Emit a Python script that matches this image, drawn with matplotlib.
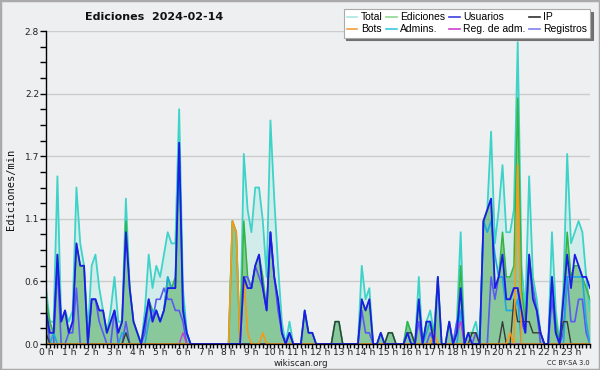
import numpy as np
import matplotlib
matplotlib.use("Agg")
import matplotlib.pyplot as plt
from matplotlib.patches import Rectangle
from matplotlib.lines import Line2D

# ---- data: edits per minute, 10-minute steps (144 points) ----
total = [
    0.5, 0.2, 0.2, 1.5, 0.2, 0.3, 0.2, 0.3, 1.4, 0.9, 0.7, 0.1,
    0.7, 0.8, 0.5, 0.3, 0.1, 0.3, 0.6, 0.2, 0.2, 1.3, 0.5, 0.2,
    0.1, 0.0, 0.3, 0.8, 0.5, 0.7, 0.6, 0.8, 1.0, 0.9, 0.9, 2.1,
    0.5, 0.1, 0, 0, 0, 0, 0, 0, 0, 0, 0, 0,
    0, 1.1, 1.0, 0, 1.7, 1.2, 1.0, 1.4, 1.4, 1.1, 0.6, 2.0,
    1.3, 0.7, 0.2, 0, 0.2, 0, 0, 0, 0.3, 0.1, 0.1, 0,
    0, 0, 0, 0, 0.2, 0.2, 0, 0, 0, 0, 0, 0.7,
    0.4, 0.5, 0, 0, 0.1, 0, 0.1, 0.1, 0, 0, 0, 0.2,
    0.1, 0, 0.6, 0, 0.2, 0.3, 0.1, 0.6, 0, 0, 0.2, 0,
    0.2, 1.0, 0, 0.1, 0.1, 0.2, 0, 1.1, 1.2, 1.9, 0.9, 1.2,
    1.6, 1.0, 1.0, 1.2, 2.7, 0.7, 0.3, 1.5, 0.6, 0.4, 0.1, 0,
    0, 1.0, 0.3, 0, 0.5, 1.7, 0.9, 1.0, 1.1, 1.0, 0.6, 0.3,
]
ediciones = [
    0.4, 0.2, 0.1, 0.8, 0.2, 0.3, 0.1, 0.2, 0.9, 0.7, 0.7, 0,
    0.4, 0.4, 0.3, 0.3, 0.1, 0.2, 0.3, 0.1, 0.2, 1.1, 0.5, 0.2,
    0.1, 0, 0.2, 0.4, 0.3, 0.3, 0.2, 0.3, 0.6, 0.5, 0.6, 1.8,
    0.3, 0.1, 0, 0, 0, 0, 0, 0, 0, 0, 0, 0,
    0, 1.1, 1.0, 0, 1.1, 0.6, 0.5, 0.7, 0.8, 0.6, 0.3, 1.0,
    0.6, 0.4, 0.1, 0, 0.1, 0, 0, 0, 0.3, 0.1, 0.1, 0,
    0, 0, 0, 0, 0.2, 0.2, 0, 0, 0, 0, 0, 0.4,
    0.3, 0.4, 0, 0, 0.1, 0, 0.1, 0.1, 0, 0, 0, 0.2,
    0.1, 0, 0.4, 0, 0.2, 0.2, 0.1, 0.6, 0, 0, 0.2, 0,
    0.1, 0.7, 0, 0.1, 0.1, 0.1, 0, 1.1, 1.2, 1.3, 0.5, 0.6,
    1.0, 0.6, 0.6, 0.7, 2.2, 0.5, 0.2, 0.8, 0.5, 0.3, 0.1, 0,
    0, 0.6, 0.2, 0, 0.4, 1.0, 0.6, 0.7, 0.7, 0.6, 0.5, 0.4,
]
usuarios = [
    0.3, 0.1, 0.1, 0.8, 0.2, 0.3, 0.1, 0.2, 0.9, 0.7, 0.7, 0,
    0.4, 0.4, 0.3, 0.3, 0.1, 0.2, 0.3, 0.1, 0.2, 1.0, 0.5, 0.2,
    0.1, 0, 0.2, 0.4, 0.2, 0.3, 0.2, 0.3, 0.5, 0.5, 0.5, 1.8,
    0.3, 0.1, 0, 0, 0, 0, 0, 0, 0, 0, 0, 0,
    0, 0, 0, 0, 0.6, 0.5, 0.5, 0.7, 0.8, 0.5, 0.3, 1.0,
    0.6, 0.4, 0.1, 0, 0.1, 0, 0, 0, 0.3, 0.1, 0.1, 0,
    0, 0, 0, 0, 0, 0, 0, 0, 0, 0, 0, 0.4,
    0.3, 0.4, 0, 0, 0.1, 0, 0, 0, 0, 0, 0, 0.1,
    0, 0, 0.4, 0, 0.2, 0.2, 0, 0.6, 0, 0, 0.2, 0,
    0.1, 0.5, 0, 0.1, 0, 0, 0, 1.1, 1.2, 1.3, 0.5, 0.6,
    0.8, 0.4, 0.4, 0.5, 0.5, 0.3, 0.1, 0.8, 0.4, 0.3, 0.1, 0,
    0, 0.6, 0.1, 0, 0.4, 0.8, 0.5, 0.8, 0.7, 0.6, 0.6, 0.5,
]
ip = [
    0.1, 0, 0, 0, 0, 0, 0, 0, 0, 0, 0, 0,
    0, 0, 0, 0, 0, 0, 0, 0, 0, 0.1, 0, 0,
    0, 0, 0, 0, 0, 0, 0, 0, 0, 0, 0, 0,
    0, 0, 0, 0, 0, 0, 0, 0, 0, 0, 0, 0,
    0, 0, 0, 0, 0, 0, 0, 0, 0, 0, 0, 0,
    0, 0, 0, 0, 0, 0, 0, 0, 0, 0, 0, 0,
    0, 0, 0, 0, 0.2, 0.2, 0, 0, 0, 0, 0, 0,
    0, 0, 0, 0, 0, 0, 0.1, 0.1, 0, 0, 0, 0.1,
    0.1, 0, 0, 0, 0, 0, 0, 0, 0, 0, 0, 0,
    0, 0, 0, 0, 0.1, 0.1, 0, 0, 0, 0, 0, 0,
    0.2, 0, 0, 0.4, 0.2, 0.2, 0.2, 0.2, 0.1, 0.1, 0.1, 0,
    0, 0, 0, 0, 0.2, 0.2, 0, 0, 0, 0, 0, 0,
]
bots = [
    0, 0, 0, 0, 0, 0, 0, 0, 0, 0, 0, 0,
    0, 0, 0, 0, 0, 0, 0, 0, 0, 0, 0, 0,
    0, 0, 0, 0, 0, 0, 0, 0, 0, 0, 0, 0,
    0, 0, 0, 0, 0, 0, 0, 0, 0, 0, 0, 0,
    0, 1.1, 1.0, 0, 0.6, 0.1, 0, 0, 0, 0.1, 0, 0,
    0, 0, 0, 0, 0, 0, 0, 0, 0, 0, 0, 0,
    0, 0, 0, 0, 0, 0, 0, 0, 0, 0, 0, 0,
    0, 0, 0, 0, 0, 0, 0, 0, 0, 0, 0, 0,
    0, 0, 0, 0, 0, 0, 0.1, 0, 0, 0, 0, 0,
    0, 0, 0, 0, 0, 0, 0, 0, 0, 0, 0, 0,
    0, 0, 0.1, 0, 1.6, 0, 0, 0, 0, 0, 0, 0,
    0, 0, 0, 0, 0, 0, 0, 0, 0, 0, 0, 0,
]
admins = [
    0, 0, 0.1, 0, 0, 0, 0, 0, 0, 0, 0, 0,
    0, 0, 0, 0, 0, 0, 0, 0, 0.1, 0.1, 0, 0,
    0, 0, 0, 0.2, 0.3, 0.3, 0.2, 0.3, 0.6, 0.5, 0.5, 1.8,
    0.4, 0.1, 0, 0, 0, 0, 0, 0, 0, 0, 0, 0,
    0, 0, 0, 0, 0, 0, 0, 0, 0, 0, 0, 0,
    0, 0, 0, 0, 0, 0, 0, 0, 0, 0, 0, 0,
    0, 0, 0, 0, 0, 0, 0, 0, 0, 0, 0, 0,
    0, 0, 0, 0, 0, 0, 0, 0, 0, 0, 0, 0.1,
    0, 0, 0, 0, 0.1, 0.2, 0, 0, 0, 0, 0, 0,
    0, 0.3, 0, 0, 0, 0, 0, 1.1, 1.0, 1.1, 0.8, 0.6,
    0.6, 0.3, 0.3, 0.3, 0.4, 0, 0, 0, 0, 0, 0, 0,
    0, 0.6, 0.1, 0, 0, 0.6, 0.6, 0.6, 0.6, 0.6, 0.2, 0,
]
reg_adm = [
    0, 0, 0, 0, 0, 0, 0, 0, 0, 0, 0, 0,
    0, 0, 0, 0, 0, 0, 0, 0, 0, 0, 0, 0,
    0, 0, 0, 0, 0, 0, 0, 0, 0, 0, 0, 0,
    0.1, 0, 0, 0, 0, 0, 0, 0, 0, 0, 0, 0,
    0, 0, 0, 0, 0, 0, 0, 0, 0, 0, 0, 0,
    0, 0, 0, 0, 0, 0, 0, 0, 0, 0, 0, 0,
    0, 0, 0, 0, 0, 0, 0, 0, 0, 0, 0, 0,
    0, 0, 0, 0, 0, 0, 0, 0, 0, 0, 0, 0,
    0, 0, 0, 0, 0, 0, 0, 0, 0, 0, 0, 0,
    0.1, 0.2, 0, 0, 0, 0, 0, 0, 0, 0, 0, 0,
    0, 0, 0, 0, 0, 0, 0, 0, 0, 0, 0, 0,
    0, 0, 0, 0, 0, 0, 0, 0, 0, 0, 0, 0,
]
registros = [
    0.3, 0, 0, 0.7, 0, 0, 0.1, 0.1, 0.5, 0, 0, 0,
    0.4, 0.4, 0.2, 0.1, 0, 0, 0.3, 0, 0, 0.2, 0, 0,
    0, 0, 0.1, 0.4, 0.2, 0.4, 0.4, 0.5, 0.4, 0.4, 0.3, 0.3,
    0.2, 0, 0, 0, 0, 0, 0, 0, 0, 0, 0, 0,
    0, 0, 0, 0, 0.6, 0.6, 0.5, 0.7, 0.6, 0.5, 0.3, 1.0,
    0.6, 0.3, 0.1, 0, 0.1, 0, 0, 0, 0, 0, 0, 0,
    0, 0, 0, 0, 0, 0, 0, 0, 0, 0, 0, 0.3,
    0.1, 0.1, 0, 0, 0, 0, 0, 0, 0, 0, 0, 0,
    0, 0, 0.2, 0, 0, 0.1, 0, 0, 0, 0, 0, 0,
    0.2, 0.3, 0, 0, 0, 0.1, 0, 0, 0, 0.6, 0.4, 0.6,
    0.6, 0.4, 0.4, 0.5, 0.5, 0.2, 0.1, 0.7, 0.5, 0.3, 0, 0,
    0, 0.4, 0.1, 0, 0.1, 0.6, 0.2, 0.2, 0.4, 0.4, 0.1, 0,
]
hour_labels = [f"{h} h" for h in range(24)]
title = "Ediciones  2024-02-14"
y_label = "Ediciones/min"

hours = np.arange(len(total)) / 6.0

BG = "#eeeff1"
fig = plt.figure(figsize=(6.0, 3.7), dpi=100, facecolor=BG)
ax = fig.add_axes([46 / 600, 26 / 370, 544 / 600, 313 / 370])
ax.set_facecolor(BG)

# fills
ax.fill_between(hours, total, color="#40e0d0", alpha=0.16, lw=0, zorder=2)
ax.fill_between(hours, ediciones, color="#2e9e3a", alpha=0.45, lw=0, zorder=3)

# lines
ax.plot(hours, total, color="#3ed3c8", lw=1.3, zorder=4)
ax.plot(hours, ediciones, color="#35b540", lw=1.1, zorder=5)
ax.plot(hours, registros, color="#5a5af0", lw=1.2, zorder=6)
ax.plot(hours, admins, color="#1eaade", lw=1.2, zorder=7)
ax.plot(hours, reg_adm, color="#c040d0", lw=1.0, zorder=7)
ax.plot(hours, ip, color="#3a3a3a", lw=1.0, zorder=7)
ax.plot(hours, bots, color="#f59a1a", lw=1.2, zorder=8)
ax.plot(hours, usuarios, color="#1c1ce6", lw=1.3, zorder=9)

ax.set_xlim(0, hours[-1])
ax.set_ylim(0, 2.8)

yt = np.linspace(0, 2.8, 6)
ax.set_yticks(yt)
ax.set_yticklabels([f"{v:.1f}" for v in yt], fontsize=6.5, color="#222222")
ax.set_yticks(np.arange(0, 2.81, 0.14), minor=True)
ax.set_xticks(np.arange(24))
ax.set_xticklabels(hour_labels, fontsize=6.6, color="#222222")
ax.set_xticks(np.arange(0, hours[-1] + 0.01, 1 / 6), minor=True)
ax.tick_params(axis="y", which="both", direction="out", length=4, width=1, color="black", pad=1)
ax.tick_params(axis="x", which="both", direction="out", length=3, width=1, color="black", pad=0)
ax.grid(axis="y", which="major", color="#cccccc", lw=1, zorder=1)

for s in ("top", "right"):
    ax.spines[s].set_visible(False)
for s in ("left", "bottom"):
    ax.spines[s].set_color("black")
    ax.spines[s].set_linewidth(1)
    ax.spines[s].set_zorder(10)

fig.text(154 / 600, 1 - 17 / 370, title, ha="center", va="center", fontsize=8,
         fontweight="bold", color="#111111")
fig.text(11 / 600, 1 - 189 / 370, y_label, ha="center", va="center", rotation=90,
         fontsize=7.5, family="DejaVu Sans Mono", color="#111111")
fig.text(301 / 600, 1 - 363 / 370, "wikiscan.org", ha="center", va="center", fontsize=6.3,
         color="#222222")
fig.text(590 / 600, 1 - 363 / 370, "CC BY-SA 3.0", ha="right", va="center", fontsize=4.8,
         color="#222222")

# legend
names = ["Total", "Bots", "Ediciones", "Admins.", "Usuarios", "Reg. de adm.", "IP", "Registros"]
cols = ["#a8e8e2", "#f0a040", "#90d890", "#40c8e0", "#4040e0", "#d040d0", "#303030", "#8080f0"]
handles = [Line2D([0], [0], color=c, lw=1.2) for c in cols]
leg = fig.legend(handles, names, ncol=4, loc="upper right", bbox_to_anchor=(0.984, 0.975),
                 prop={"family": "Liberation Sans", "size": 7.5}, frameon=True, fancybox=False,
                 handlelength=1.0, handletextpad=0.35, columnspacing=0.35, labelspacing=0.2,
                 borderpad=0.3, borderaxespad=0.0,
                 shadow={"color": "#707070", "alpha": 1.0})
fr = leg.get_frame()
fr.set_facecolor("white")
fr.set_edgecolor("#aaaaaa")
fr.set_linewidth(0.8)
fr.set_alpha(1)

fig.patches.append(Rectangle((0, 0), 1, 1, transform=fig.transFigure, fill=False,
                             edgecolor="#aaaaaa", lw=2.5))

fig.savefig("out.png", dpi=100, facecolor=BG)
